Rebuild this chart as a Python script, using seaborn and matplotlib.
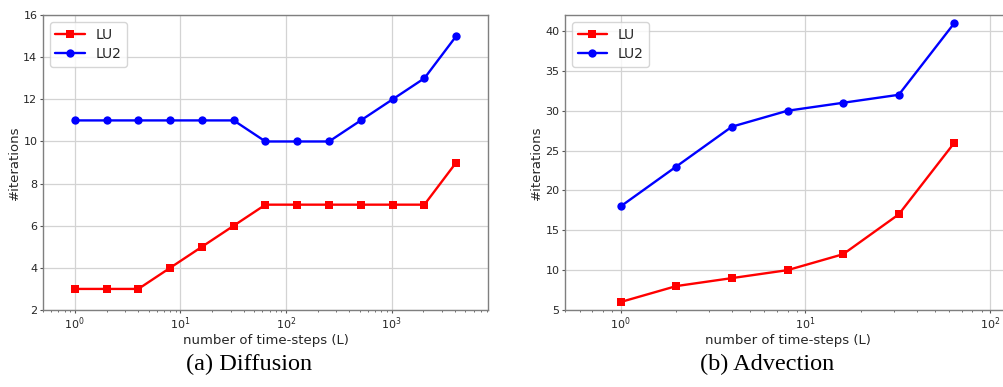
import numpy as np
import pandas as pd
import seaborn as sns
import matplotlib
matplotlib.use('Agg')
import matplotlib.pyplot as plt

# data
steps_diff = [1, 2, 4, 8, 16, 32, 64, 128, 256, 512, 1024, 2048, 4096]
lu_diff = [3, 3, 3, 4, 5, 6, 7, 7, 7, 7, 7, 7, 9]
lu2_diff = [11, 11, 11, 11, 11, 11, 10, 10, 10, 11, 12, 13, 15]

steps_adv = [1, 2, 4, 8, 16, 32, 64]
lu_adv = [6, 8, 9, 10, 12, 17, 26]
lu2_adv = [18, 23, 28, 30, 31, 32, 41]

sns.set_theme(style='ticks', rc={
    'axes.grid': True,
    'grid.color': '#d3d3d3',
    'grid.linewidth': 0.9,
    'axes.edgecolor': '#7f7f7f',
    'axes.linewidth': 1.0,
    'xtick.color': '#555555',
    'ytick.color': '#555555',
    'xtick.labelcolor': '#262626',
    'ytick.labelcolor': '#262626',
    'xtick.labelsize': 8,
    'ytick.labelsize': 8,
    'axes.labelsize': 9.5,
    'axes.labelcolor': '#262626',
})
plt.rcParams['font.family'] = ['DejaVu Sans']

fig = plt.figure(figsize=(10.04, 3.87), dpi=100)
ax1 = fig.add_axes([0.0428, 0.199, 0.4432, 0.762])
ax2 = fig.add_axes([0.5628, 0.199, 0.4432, 0.762])


def draw(ax, x, lu, lu2, xlim, ylim, yticks):
    sns.lineplot(x=x, y=lu, ax=ax, color='red', marker='s', markersize=6,
                 markeredgewidth=0, linewidth=1.7, label='LU')
    sns.lineplot(x=x, y=lu2, ax=ax, color='blue', marker='o', markersize=6,
                 markeredgewidth=0, linewidth=1.7, label='LU2')
    ax.set_xscale('log')
    ax.set_xlim(*xlim)
    ax.set_ylim(*ylim)
    ax.set_yticks(yticks)
    ax.grid(True, which='major')
    ax.grid(False, which='minor')
    ax.tick_params(which='major', length=2.5, width=0.8, pad=1.5)
    ax.tick_params(which='minor', length=1.5, width=0.6)
    ax.set_xlabel('number of time-steps (L)', labelpad=1)
    ax.set_ylabel('#iterations', labelpad=1.5)
    leg = ax.legend(loc='upper left', fontsize=10, frameon=True,
                    handlelength=2.1, borderpad=0.4, labelspacing=0.4,
                    handletextpad=0.8)
    leg.get_frame().set_edgecolor('#cccccc')
    for t in leg.get_texts():
        t.set_color('#262626')


draw(ax1, steps_diff, lu_diff, lu2_diff, (0.5, 8192), (2, 16), range(2, 17, 2))
draw(ax2, steps_adv, lu_adv, lu2_adv, (0.5, 128), (5, 42), range(5, 41, 5))

fig.text(0.248, 0.057, '(a) Diffusion', ha='center', va='center',
         fontsize=17.5, family='Liberation Serif', color='black')
fig.text(0.764, 0.057, '(b) Advection', ha='center', va='center',
         fontsize=17.5, family='Liberation Serif', color='black')

fig.savefig('out.png', dpi=100)
